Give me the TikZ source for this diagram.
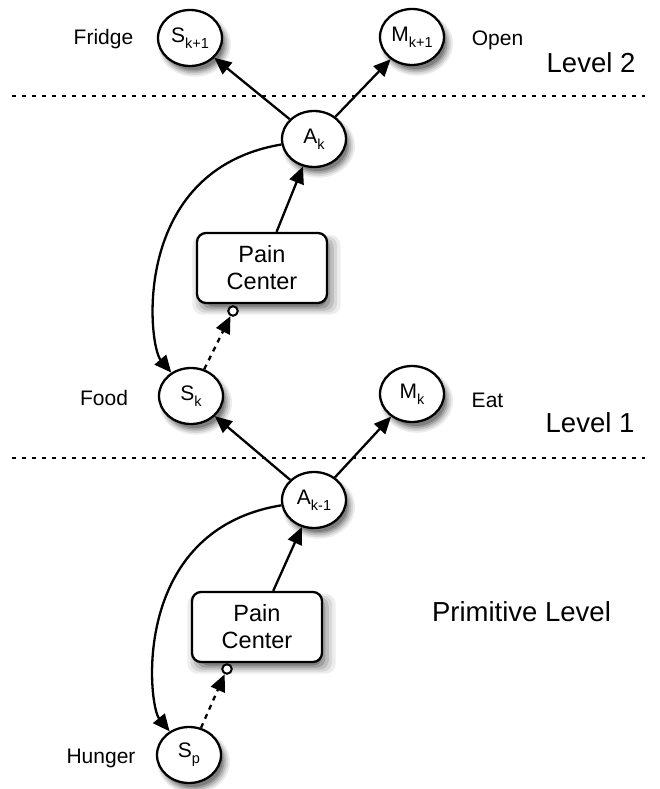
\documentclass[tikz,border=0pt]{standalone}
\usepackage{fontspec}
\setmainfont{Liberation Sans}
\usetikzlibrary{arrows.meta,shapes.geometric,shadows}
\newcommand\lowsub[1]{\raisebox{-0.3em}{\fontsize{14.5pt}{14.5pt}\selectfont #1}}
\begin{document}
\begin{tikzpicture}[x=1pt,y=-1pt,
  shd/.style={
    drop shadow={shadow xshift=4pt, shadow yshift=-6pt, shadow scale=1.14, opacity=0.07, fill=black},
    drop shadow={shadow xshift=4pt, shadow yshift=-6pt, shadow scale=1.09, opacity=0.09, fill=black},
    drop shadow={shadow xshift=4pt, shadow yshift=-6pt, shadow scale=1.04, opacity=0.12, fill=black},
    drop shadow={shadow xshift=4pt, shadow yshift=-6pt, shadow scale=0.99, opacity=0.16, fill=black},
    drop shadow={shadow xshift=4pt, shadow yshift=-6pt, shadow scale=0.94, opacity=0.2, fill=black}},
  st/.style={ellipse, draw, line width=2.3pt, fill=white, minimum width=64pt, minimum height=56pt, inner sep=0pt, font=\fontsize{21pt}{21pt}\selectfont, shd},
  pc/.style={rectangle, rounded corners=9pt, draw, line width=2.3pt, fill=white, minimum width=130pt, minimum height=70pt, inner sep=0pt, align=center, font=\fontsize{23.5pt}{27pt}\selectfont, shd},
  lbl/.style={anchor=base, font=\fontsize{21pt}{21pt}\selectfont},
  lvl/.style={anchor=base, font=\fontsize{27.5pt}{27.5pt}\selectfont},
  conn/.style={line width=2.3pt, -{Triangle[length=17pt,width=15pt]}},
  dconn/.style={conn, dash pattern=on 5pt off 5pt},
  sep/.style={line width=2.2pt, dash pattern=on 4pt off 6pt},
  dot/.style={circle, draw, line width=2pt, fill=white, minimum size=9.5pt, inner sep=0pt}
]
\useasboundingbox (0,0) rectangle (659,789);

% separators
\coordinate (s2l) at (12,96);
\coordinate (s2r) at (645,96);
\coordinate (s1l) at (12,458);
\coordinate (s1r) at (645,458);
\draw[sep] (s2l) -- (s2r);
\draw[sep] (s1l) -- (s1r);

% nodes
\node[st] (Sk1) at (190,38) {S\lowsub{k+1}};
\node[st] (Mk1) at (412,37) {M\lowsub{k+1}};
\node[st] (Ak) at (314,139) {A\lowsub{k}};
\node[pc] (PC1) at (262,268) {Pain\\Center};
\node[dot] (dot1) at (233,311) {};
\node[st] (Sk) at (191,396) {S\lowsub{k}};
\node[st] (Mk) at (412,394) {M\lowsub{k}};
\node[st] (Akm) at (314,500) {A\lowsub{k-1}};
\node[pc] (PC2) at (257,627) {Pain\\Center};
\node[dot] (dot2) at (227,669) {};
\node[st] (Sp) at (189,755) {S\lowsub{p}};

% labels
\node[lbl] (fridge) at (103.5,45) {Fridge};
\node[lbl] (open) at (497.5,46) {Open};
\node[lbl] (food) at (104,405) {Food};
\node[lbl] (eat) at (487.5,407) {Eat};
\node[lbl] (hunger) at (101,763) {Hunger};
\node[lvl] (lv2) at (591,73) {Level 2};
\node[lvl] (lv1) at (590,432) {Level 1};
\node[lvl] (lvp) at (521.5,621) {Primitive Level};

% connectors
\draw[conn] (Ak) -- (Sk1);
\draw[conn] (Ak) -- (Mk1);
\draw[conn] (PC1) -- (Ak);
\draw[conn] (Ak) .. controls (130,170) and (148,345) .. (Sk);
\draw[dconn] (Sk) -- (dot1);

\draw[conn] (Akm) -- (Sk);
\draw[conn] (Akm) -- (Mk);
\draw[conn] (PC2) -- (Akm);
\draw[conn] (Akm) .. controls (130,530) and (148,705) .. (Sp);
\draw[dconn] (Sp) -- (dot2);
\end{tikzpicture}
\end{document}
